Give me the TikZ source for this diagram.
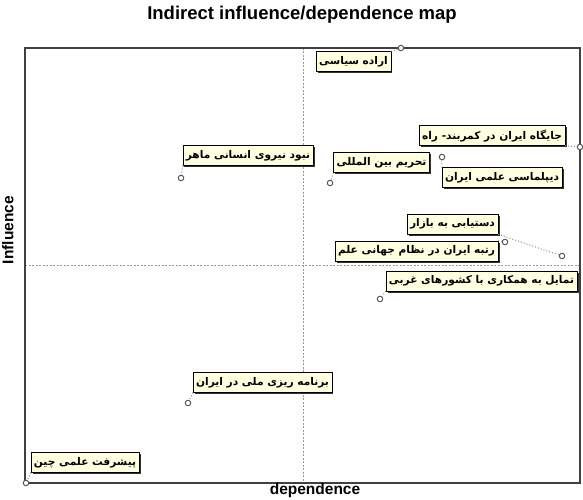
\documentclass[tikz,border=0pt]{standalone}
\usepackage{fontspec}
\setmainfont{Liberation Sans}
\newfontfamily\farsi[Script=Arabic]{DejaVu Sans}
\TeXXeTstate=1
\usetikzlibrary{shadows}
\usetikzlibrary{positioning}
\definecolor{tipbg}{RGB}{255,255,225}

\begin{document}
\begin{tikzpicture}[x=1pt,y=-1pt,
  tag/.style={draw=black,fill=tipbg,inner xsep=3pt,inner ysep=1pt,minimum height=20pt,
    font=\farsi\bfseries\fontsize{10.6}{12}\selectfont,
    drop shadow={shadow xshift=1.6pt,shadow yshift=-1.6pt,fill=black!80,opacity=1}},
  pt/.style={circle,draw=black!65,fill=white,inner sep=0pt,minimum size=5.5pt,line width=1pt},
  lead/.style={black!45,dotted,line width=1pt},
  axis/.style={font=\bfseries\fontsize{15.5}{17}\selectfont}]
\useasboundingbox (0,0) rectangle (583,500);

% frame and quadrants
\coordinate (nw) at (25,48);
\coordinate (ne) at (580,48);
\coordinate (se) at (580,483);
\coordinate (sw) at (25,483);
\coordinate (mt) at (303,48);
\coordinate (mb) at (303,483);
\coordinate (ml) at (25,265);
\coordinate (mr) at (580,265);
\draw[black!40,dashed,dash pattern=on 2pt off 1.5pt,line width=0.6pt](mt)--(mb);
\draw[black!40,dashed,dash pattern=on 2pt off 1.5pt,line width=0.6pt](ml)--(mr);
\draw[black!75,line width=1.3pt](nw)--(ne)--(se)--(sw)--cycle;

\node[font=\bfseries\fontsize{18.5}{20}\selectfont](title) at (302,15){Indirect influence/dependence map};
\node[axis](dep) at (315,490){dependence};
\node[axis,rotate=90,anchor=south](inf) at (17,230){Influence};

% variables
\node[tag](siasi) at (353.5,61.5){\beginR اراده سیاسی\endR};
\node[tag](kamar) at (492,135.5){\beginR جایگاه ایران در کمربند- راه\endR};
\node[tag](niroo) at (248,155.5){\beginR نبود نیروی انسانی ماهر\endR};
\node[tag](tahrim) at (381.5,162.5){\beginR تحریم بین المللی\endR};
\node[tag](diplo) at (502,177.5){\beginR دیپلماسی علمی ایران\endR};
\node[tag](bazar) at (452.5,224){\beginR دستیابی به بازار\endR};
\node[tag](rotbe) at (416.5,251){\beginR رتبه ایران در نظام جهانی علم\endR};
\node[tag](hamkari) at (481.5,281){\beginR تمایل به همکاری با کشورهای غربی\endR};
\node[tag](barname) at (262.5,382.5){\beginR برنامه ریزی ملی در ایران\endR};
\node[tag](chin) at (85,462.5){\beginR پیشرفت علمی چین\endR};

\node[pt](p-siasi) at (401,48){};
\node[pt](p-kamar) at (580,147){};
\node[pt](p-niroo) at (181,178){};
\node[pt](p-tahrim) at (330,183){};
\node[pt](p-diplo) at (442,157){};
\node[pt](p-bazar) at (562,256){};
\node[pt](p-rotbe) at (505,242){};
\node[pt](p-hamkari) at (380,299){};
\node[pt](p-barname) at (188,403){};
\node[pt](p-chin) at (26,483){};

\draw[lead](siasi.north east)--(p-siasi);
\draw[lead](kamar.south east)--(p-kamar);
\draw[lead](niroo.south west)--(p-niroo);
\draw[lead](tahrim.south west)--(p-tahrim);
\draw[lead](diplo.north west)--(p-diplo);
\draw[lead](bazar.south east)--(p-bazar);
\draw[lead](rotbe.north east)--(p-rotbe);
\draw[lead](hamkari.south west)--(p-hamkari);
\draw[lead](barname.south west)--(p-barname);
\draw[lead](chin.south west)--(p-chin);
\end{tikzpicture}
\end{document}
